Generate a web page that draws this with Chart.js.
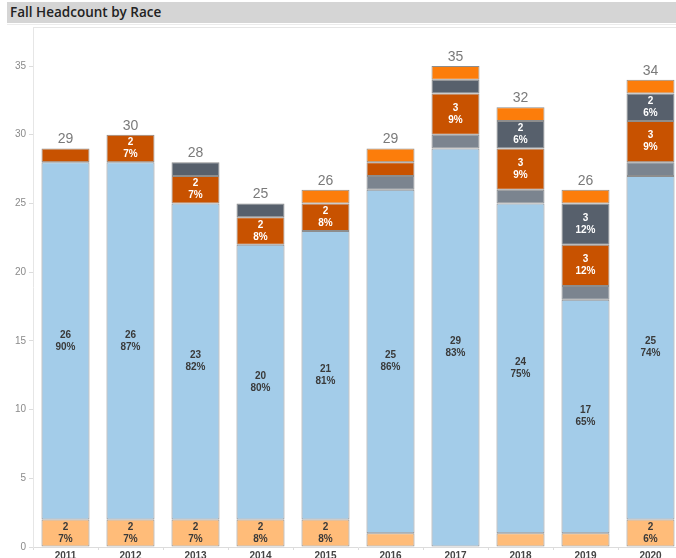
<!DOCTYPE html>
<html>
<head>
<meta charset="utf-8">
<script src="https://cdn.jsdelivr.net/npm/chart.js@4/dist/chart.umd.min.js"></script>
<style>
  html, body { margin: 0; padding: 0; width: 676px; height: 558px; overflow: hidden; background: #fff; }
  #title {
    position: absolute; left: 7px; top: 2px; right: 0; height: 21px;
    background: #d5d5d5; z-index: 2;
    font: 600 13.5px "Open Sans", sans-serif; color: #222;
    line-height: 21px; padding-left: 3px; box-sizing: border-box;
  }
  #rule { position: absolute; left: 7px; right: 0; top: 24px; height: 1px; background: #ececec; z-index: 2; }
  #wrap { position: absolute; left: 0; top: 0; width: 700px; height: 570px; }
</style>
</head>
<body>
<div id="title">Fall Headcount by Race</div>
<div id="rule"></div>
<div id="wrap"><canvas id="c"></canvas></div>
<script>
// Fall headcount per year, split by race group (stacked bottom to top)
const years = ['2011', '2012', '2013', '2014', '2015', '2016', '2017', '2018', '2019', '2020'];
const race1 = [2, 2, 2, 2, 2, 1, 0, 1, 1, 2];
const race2 = [26, 26, 23, 20, 21, 25, 29, 24, 17, 25];
const race3 = [0, 0, 0, 0, 0, 1, 1, 1, 1, 1];
const race4 = [1, 2, 2, 2, 2, 1, 3, 3, 3, 3];
const race5 = [0, 0, 1, 1, 0, 0, 1, 2, 3, 2];
const race6 = [0, 0, 0, 0, 1, 1, 1, 1, 1, 1];
const yTicks = [0, 5, 10, 15, 20, 25, 30, 35];

const series = [race1, race2, race3, race4, race5, race6];
const fills = ['#FFBC79', '#A3CCE9', '#7B848F', '#C85200', '#57606C', '#FC7D0B'];
const labelInk = ['#3a3a3a', '#3a3a3a', '#ffffff', '#ffffff', '#ffffff', '#ffffff'];

const totals = years.map((_, i) => series.reduce((s, arr) => s + arr[i], 0));

const datasets = series.map((arr, k) => ({
  label: 'race' + (k + 1),
  data: arr.map(v => (v === 0 ? null : v)),
  backgroundColor: fills[k],
  borderColor: '#8d8d8d',
  borderWidth: 1,
  borderSkipped: false,
  categoryPercentage: 48 / 65,
  barPercentage: 1
}));

// Value / share labels inside segments and totals above each bar
const labelPlugin = {
  id: 'segmentLabels',
  afterDatasetsDraw(chart) {
    const ctx = chart.ctx;
    const yScale = chart.scales.y;
    const xScale = chart.scales.x;
    ctx.save();
    ctx.textAlign = 'center';
    ctx.textBaseline = 'middle';
    chart.data.datasets.forEach((ds, k) => {
      const meta = chart.getDatasetMeta(k);
      meta.data.forEach((bar, i) => {
        const v = series[k][i];
        if (v < 2) return;
        const pct = Math.round(v / totals[i] * 100) + '%';
        const cy = (bar.y + bar.base) / 2;
        ctx.fillStyle = labelInk[k];
        ctx.font = '600 10px "Liberation Sans", Arial, sans-serif';
        ctx.fillText(String(v), bar.x, cy - 6);
        ctx.fillText(pct, bar.x, cy + 6);
      });
    });
    ctx.font = '14px "Liberation Sans", Arial, sans-serif';
    ctx.fillStyle = '#7a7a7a';
    totals.forEach((t, i) => {
      const x = xScale.getPixelForValue(i);
      const y = yScale.getPixelForValue(t);
      ctx.fillText(String(t), x, y - 9);
    });
    // light frame line along the top of the plot area
    const a = chart.chartArea;
    ctx.strokeStyle = '#e6e6e6';
    ctx.lineWidth = 1;
    ctx.beginPath();
    ctx.moveTo(a.left, a.top + 0.5);
    ctx.lineTo(a.right, a.top + 0.5);
    ctx.stroke();
    ctx.restore();
  }
};

new Chart(document.getElementById('c'), {
  type: 'bar',
  data: { labels: years, datasets },
  plugins: [labelPlugin],
  options: {
    responsive: true,
    maintainAspectRatio: false,
    animation: false,
    layout: { padding: { top: 27, left: 0, right: 17, bottom: 0 } },
    plugins: { legend: { display: false }, tooltip: { enabled: false }, title: { display: false } },
    scales: {
      x: {
        stacked: true,
        afterFit(scale) { scale.height = 23; },
        grid: { offset: true, drawOnChartArea: false, tickLength: 3, color: '#dcdcdc' },
        border: { color: '#dcdcdc' },
        ticks: {
          padding: 0,
          color: '#444',
          font: { family: '"Liberation Sans", Arial, sans-serif', size: 10, weight: 'bold' },
          maxRotation: 0
        }
      },
      y: {
        stacked: true,
        min: 0,
        max: 37.84,
        afterFit(scale) { scale.width = 33; },
        afterBuildTicks(scale) { scale.ticks = yTicks.map(v => ({ value: v })); },
        grid: { drawOnChartArea: false, tickLength: 4, color: '#dcdcdc' },
        border: { color: '#e6e6e6' },
        ticks: {
          padding: 3,
          color: '#8a8a8a',
          font: { family: '"Liberation Sans", Arial, sans-serif', size: 10 }
        }
      }
    }
  }
});
</script>
</body>
</html>
